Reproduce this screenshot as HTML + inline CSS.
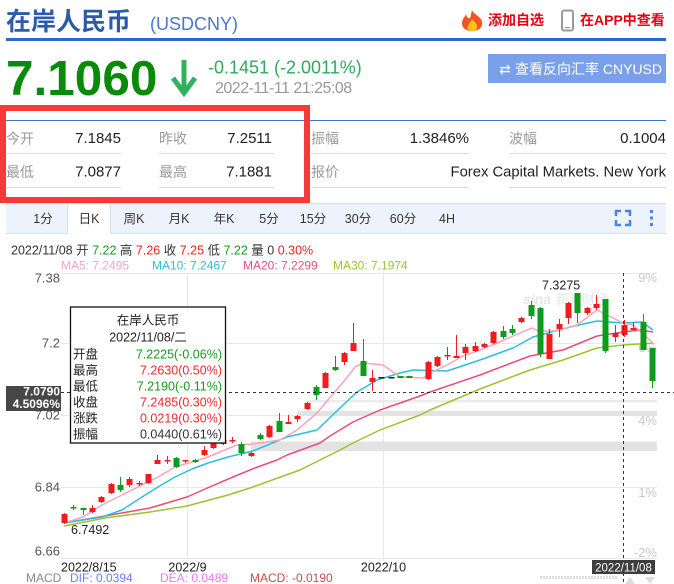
<!DOCTYPE html>
<html>
<head>
<meta charset="utf-8">
<style>
html,body{margin:0;padding:0;background:#fff;}
body{width:674px;height:584px;overflow:hidden;}
svg{display:block;font-family:"Liberation Sans","Noto Sans CJK SC",sans-serif;}
</style>
</head>
<body>
<svg width="674" height="584" viewBox="0 0 674 584" xmlns="http://www.w3.org/2000/svg">
<!-- Header -->
<text x="6" y="30" font-size="25" font-weight="bold" fill="#2d5ba8">在岸人民币</text>
<text x="150" y="30" font-size="18" fill="#4a77c9">(USDCNY)</text>
<path d="M472 10 C474 15 481 16 482 22 C483 28 478 31 472 31 C466 31 462 28 462 23 C462 19 465 17 466 14 C467 18 469 19 470 18 C471 16 471 13 472 10Z" fill="#f5541f"/>
<path d="M472 19 C474 22 478 24 477 27 C477 30 475 31 472 31 C469 31 467 29 467.5 27 C468 25 470 23 472 19Z" fill="#ffc21a"/>
<text x="488" y="25" font-size="14" font-weight="bold" fill="#e60012">添加自选</text>
<rect x="562" y="10.5" width="11" height="20" rx="2" fill="none" stroke="#9a9a9a" stroke-width="2"/>
<rect x="565" y="27" width="5" height="1.2" fill="#9a9a9a"/>
<text x="580" y="25" font-size="14" font-weight="bold" fill="#e60012">在APP中查看</text>
<rect x="6" y="38" width="660" height="3" fill="#3366cc"/>

<text x="6" y="95" font-size="49.5" font-weight="bold" fill="#0a8a0a">7.1060</text>
<line x1="184" y1="60" x2="184" y2="92" stroke="#2fb15e" stroke-width="5"/>
<polyline points="173,78 184,93 195,78" fill="none" stroke="#2fb15e" stroke-width="5"/>
<text x="208" y="73.5" font-size="18" fill="#2eaa5e">-0.1451 (-2.0011%)</text>
<text x="215" y="93" font-size="16" letter-spacing="-0.5" fill="#999">2022-11-11 21:25:08</text>

<rect x="488" y="54" width="178" height="29" fill="#7ba0ea"/>
<text x="499" y="74" font-size="14" fill="#fff" font-family="DejaVu Sans, sans-serif">⇄</text>
<text x="515" y="74" font-size="14" fill="#fff">查看反向汇率 CNYUSD</text>

<!-- Info table -->
<line x1="6" y1="120.5" x2="666" y2="120.5" stroke="#3d72c8" stroke-width="1"/>
<g font-size="14" fill="#9a9a9a">
<text x="6" y="143.5">今开</text>
<text x="159" y="143.5">昨收</text>
<text x="311" y="143.5">振幅</text>
<text x="509" y="143.5">波幅</text>
<text x="6" y="177">最低</text>
<text x="159" y="177">最高</text>
<text x="311" y="177">报价</text>
</g>
<g font-size="15" fill="#222" text-anchor="end">
<text x="121" y="143">7.1845</text>
<text x="272" y="143">7.2511</text>
<text x="469" y="143">1.3846%</text>
<text x="666" y="143">0.1004</text>
<text x="121" y="176.5">7.0877</text>
<text x="272" y="176.5">7.1881</text>
<text x="666" y="176.5" font-size="14.8">Forex Capital Markets. New York</text>
</g>
<g stroke="#dddddd" stroke-width="1">
<line x1="6" y1="153.5" x2="121" y2="153.5"/>
<line x1="159" y1="153.5" x2="274" y2="153.5"/>
<line x1="311" y1="153.5" x2="469" y2="153.5"/>
<line x1="509" y1="153.5" x2="666" y2="153.5"/>
<line x1="6" y1="187.5" x2="121" y2="187.5"/>
<line x1="159" y1="187.5" x2="274" y2="187.5"/>
<line x1="311" y1="187.5" x2="469" y2="187.5"/>
<line x1="509" y1="187.5" x2="666" y2="187.5"/>
</g>
<rect x="3" y="108" width="304" height="92" fill="none" stroke="#f93838" stroke-width="6"/>

<!-- Tabs -->
<rect x="6" y="203" width="660" height="31" fill="#edf3fc"/>
<line x1="6" y1="203.5" x2="666" y2="203.5" stroke="#d5dfee"/>
<line x1="6" y1="233.5" x2="666" y2="233.5" stroke="#d5dfee"/>
<rect x="67" y="204" width="44" height="31" fill="#fff"/>
<line x1="67.5" y1="204" x2="67.5" y2="234" stroke="#d5dfee"/>
<line x1="110.5" y1="204" x2="110.5" y2="234" stroke="#d5dfee"/>
<g font-size="12.5" fill="#333" text-anchor="middle">
<text x="43" y="223">1分</text>
<text x="89" y="223">日K</text>
<text x="134" y="223">周K</text>
<text x="179" y="223">月K</text>
<text x="224" y="223">年K</text>
<text x="269" y="223">5分</text>
<text x="313" y="223">15分</text>
<text x="358" y="223">30分</text>
<text x="403" y="223">60分</text>
<text x="447" y="223">4H</text>
</g>
<g fill="none" stroke="#4a86d8" stroke-width="2.5">
<polyline points="616,216 616,211 621,211"/>
<polyline points="625,211 630,211 630,216"/>
<polyline points="616,220 616,225 621,225"/>
<polyline points="625,225 630,225 630,220"/>
</g>
<g fill="#4a86d8">
<rect x="650" y="210" width="3" height="3"/>
<rect x="650" y="216.5" width="3" height="3"/>
<rect x="650" y="223" width="3" height="3"/>
</g>

<!-- Info line -->
<text x="11" y="254.5" font-size="12.5" fill="#333">2022/11/08 开 <tspan fill="#1a9a1a">7.22</tspan> 高 <tspan fill="#f02020">7.26</tspan> 收 <tspan fill="#f02020">7.25</tspan> 低 <tspan fill="#1a9a1a">7.22</tspan> 量 0 <tspan fill="#f02020">0.30%</tspan></text>
<g font-size="12">
<text x="61" y="269.5" fill="#f6a5bf">MA5: 7.2495</text>
<text x="152" y="269.5" fill="#2bbfdc">MA10: 7.2467</text>
<text x="243" y="269.5" fill="#ec4b7c">MA20: 7.2299</text>
<text x="333" y="269.5" fill="#9cc42e">MA30: 7.1974</text>
</g>

<!-- Grid -->
<g stroke="#e8e8e8" stroke-width="1">
<line x1="61" y1="273.5" x2="657" y2="273.5"/>
<line x1="61" y1="343.5" x2="657" y2="343.5"/>
<line x1="61" y1="415.5" x2="657" y2="415.5"/>
<line x1="61" y1="487.5" x2="657" y2="487.5"/>
<line x1="61" y1="558.5" x2="657" y2="558.5"/>
<line x1="187.5" y1="273" x2="187.5" y2="558"/>
<line x1="383.5" y1="273" x2="383.5" y2="558"/>
</g>
<g fill="#e3e3e3">
<rect x="307" y="400" width="350" height="2.5" fill="#ececec"/>
<rect x="298" y="411" width="359" height="5"/>
<rect x="251" y="441.5" width="406" height="9.5"/>
</g>
<g font-size="13" fill="#555" text-anchor="end">
<text x="60" y="282.5">7.38</text>
<text x="60" y="347.5">7.2</text>
<text x="60" y="419.5">7.02</text>
<text x="60" y="491.5">6.84</text>
<text x="60" y="555.5">6.66</text>
</g>
<g font-size="13" fill="#c8c8c8" text-anchor="end">
<text x="657" y="282">9%</text>
<text x="657" y="352">6%</text>
<text x="657" y="425">4%</text>
<text x="657" y="497">1%</text>
<text x="657" y="557">-2%</text>
</g>
<text x="523" y="304" font-size="14" font-weight="bold" font-style="italic" fill="#e6e6e6">sina</text>
<text x="556" y="304" font-size="13" fill="#e6e6e6">新浪财经</text>

<!-- MA lines -->
<g fill="none" stroke-width="1.5" stroke-linejoin="round">
<polyline stroke="#9cc42e" points="64,526 105,518 150,512 187,506 228,495 250,488 300,470 320,460 340,450 353,443 380,430 420,415 430,410 480,389 530,370 563,360 597,348 623,345 653,343"/>
<polyline stroke="#ec4b7c" points="64,523 105,516 150,508 187,497 205,489 233,477 255,468 277,460 287,455 320,443 330,436 353,422 380,410 420,396 430,392 480,375 530,356 563,350 597,336 623,332 640,330 653,332"/>
<polyline stroke="#2bbfdc" points="64,523 102,517 122,510 142,497 158,487 175,477 192,469 208,463 228,457 253,451 287,437 317,430 340,408 357,392 377,380 400,373 413,370 447,371 480,360 513,348 533,337 570,327 597,321 623,323 642,322 653,330"/>
<polyline stroke="#f6a5bf" points="64,523 83,517 102,505 122,495 138,487 158,477 175,467 192,462 208,457 222,451 237,445 253,444 280,440 297,430 317,413 333,394 345,380 355,367 363,363 383,365 400,377 423,378 430,373 447,365 463,356 480,350 497,343 513,336 532,328 538,331 557,331 577,325 597,310 607,315 623,323 633,325 642,333 652,342"/>
</g>

<!-- Candles red -->
<g fill="#f31b1b">
<rect x="64" y="513" width="1" height="11"/><rect x="61.5" y="514" width="6" height="9"/>
<rect x="92" y="505" width="1" height="8"/><rect x="89.5" y="508" width="6" height="4"/>
<rect x="101" y="496" width="1" height="7"/><rect x="98.5" y="497" width="6" height="5"/>
<rect x="111" y="483" width="1" height="11"/><rect x="108.5" y="484" width="6" height="9"/>
<rect x="129" y="477" width="1" height="10"/><rect x="126.5" y="479" width="6" height="6"/>
<rect x="139" y="481" width="1" height="5"/><rect x="136.5" y="483" width="6" height="1.5"/>
<rect x="148" y="474" width="1" height="10"/><rect x="145.5" y="474" width="6" height="9"/>
<rect x="157" y="455" width="1" height="9"/><rect x="154.5" y="460" width="6" height="4"/>
<rect x="167" y="456" width="1" height="8"/><rect x="164.5" y="460" width="6" height="1.5"/>
<rect x="185" y="460" width="1" height="3"/><rect x="182.5" y="460" width="6" height="1.5"/>
<rect x="204" y="446" width="1" height="10"/><rect x="201.5" y="450" width="6" height="5"/>
<rect x="213" y="438" width="1" height="11"/><rect x="210.5" y="442" width="6" height="6"/>
<rect x="223" y="437" width="1" height="8"/><rect x="220.5" y="440" width="6" height="4"/>
<rect x="232" y="437" width="1" height="6"/><rect x="229.5" y="440" width="6" height="1.5"/>
<rect x="251" y="452" width="1" height="5"/><rect x="248.5" y="453" width="6" height="3"/>
<rect x="269" y="425" width="1" height="13"/><rect x="266.5" y="426" width="6" height="11"/>
<rect x="288" y="415" width="1" height="9"/><rect x="285.5" y="422" width="6" height="2"/>
<rect x="297" y="415" width="1" height="7"/><rect x="294.5" y="416" width="6" height="3"/>
<rect x="307" y="402" width="1" height="8"/><rect x="304.5" y="403" width="6" height="6"/>
<rect x="325" y="372" width="1" height="16"/><rect x="322.5" y="373" width="6" height="15"/>
<rect x="344" y="352" width="1" height="13"/><rect x="341.5" y="353" width="6" height="9"/>
<rect x="353" y="323" width="1" height="28"/><rect x="350.5" y="343" width="6" height="8"/>
<rect x="372" y="370" width="1" height="21"/><rect x="369.5" y="378" width="6" height="4"/>
<rect x="428" y="361" width="1" height="19"/><rect x="425.5" y="362" width="6" height="17"/>
<rect x="437" y="356" width="1" height="11"/><rect x="434.5" y="357" width="6" height="9"/>
<rect x="447" y="347" width="1" height="13"/><rect x="444.5" y="355" width="6" height="1.5"/>
<rect x="456" y="335" width="1" height="23"/><rect x="453.5" y="356" width="6" height="2"/>
<rect x="465" y="344" width="1" height="16"/><rect x="462.5" y="347" width="6" height="6"/>
<rect x="475" y="342" width="1" height="10"/><rect x="472.5" y="346" width="6" height="5"/>
<rect x="484" y="343" width="1" height="5"/><rect x="481.5" y="344" width="6" height="3"/>
<rect x="493" y="331" width="1" height="13"/><rect x="490.5" y="332" width="6" height="11"/>
<rect x="521" y="317" width="1" height="6"/><rect x="518.5" y="318" width="6" height="4"/>
<rect x="549" y="329" width="1" height="30"/><rect x="546.5" y="334" width="6" height="25"/>
<rect x="559" y="319" width="1" height="18"/><rect x="556.5" y="324" width="6" height="5"/>
<rect x="568" y="302" width="1" height="22"/><rect x="565.5" y="303" width="6" height="15"/>
<rect x="587" y="307" width="1" height="8"/><rect x="584.5" y="308" width="6" height="5"/>
<rect x="596" y="295" width="1" height="15"/><rect x="593.5" y="304" width="6" height="4"/>
<rect x="615" y="325" width="1" height="17"/><rect x="612.5" y="333" width="6" height="4"/>
<rect x="624" y="320" width="1" height="17"/><rect x="621.5" y="325" width="6" height="10"/>
<rect x="633" y="322" width="1" height="8"/><rect x="630.5" y="328" width="6" height="2"/>
</g>
<!-- Candles green -->
<g fill="#0e9c1e">
<rect x="73" y="505" width="1" height="5"/><rect x="70.5" y="507" width="6" height="1.5"/>
<rect x="83" y="508" width="1" height="7"/><rect x="80.5" y="508" width="6" height="2"/>
<rect x="120" y="477" width="1" height="15"/><rect x="117.5" y="485" width="6" height="5"/>
<rect x="176" y="457" width="1" height="11"/><rect x="173.5" y="458" width="6" height="9"/>
<rect x="195" y="459" width="1" height="4"/><rect x="192.5" y="460" width="6" height="2"/>
<rect x="241" y="442" width="1" height="14"/><rect x="238.5" y="444" width="6" height="9"/>
<rect x="260" y="433" width="1" height="7"/><rect x="257.5" y="435" width="6" height="4"/>
<rect x="279" y="413" width="1" height="19"/><rect x="276.5" y="421" width="6" height="11"/>
<rect x="316" y="385" width="1" height="15"/><rect x="313.5" y="387" width="6" height="8"/>
<rect x="335" y="356" width="1" height="15"/><rect x="332.5" y="367" width="6" height="3"/>
<rect x="363" y="339" width="1" height="37"/><rect x="360.5" y="361" width="6" height="15"/>
<rect x="397.5" y="376" width="6" height="2"/>
<rect x="406.5" y="376" width="6" height="2"/>
<rect x="503" y="326" width="1" height="13"/><rect x="500.5" y="331" width="6" height="6"/>
<rect x="512" y="325" width="1" height="10"/><rect x="509.5" y="329" width="6" height="4"/>
<rect x="531" y="301" width="1" height="18"/><rect x="528.5" y="305" width="6" height="11"/>
<rect x="540" y="307" width="1" height="50"/><rect x="537.5" y="308" width="6" height="46"/>
<rect x="577" y="293" width="1" height="30"/><rect x="574.5" y="293" width="6" height="20"/>
<rect x="605" y="299" width="1" height="54"/><rect x="602.5" y="299" width="6" height="52"/>
<rect x="643" y="314" width="1" height="36"/><rect x="640.5" y="322" width="6" height="28"/>
<rect x="652" y="348" width="1" height="40"/><rect x="649.5" y="348" width="6" height="33"/>
</g>
<g fill="#222">
<rect x="378.5" y="377" width="6" height="1.5"/>
<rect x="388.5" y="377" width="6" height="1.5"/>
</g>

<text x="542" y="289.5" font-size="12.5" fill="#222">7.3275</text>
<text x="71" y="534" font-size="12.5" fill="#222">6.7492</text>

<!-- Crosshair -->
<line x1="623.5" y1="273" x2="623.5" y2="584" stroke="#333" stroke-width="1" stroke-dasharray="3,3"/>
<line x1="61" y1="392.5" x2="674" y2="392.5" stroke="#333" stroke-width="1" stroke-dasharray="3,3"/>
<rect x="6" y="386" width="55" height="25" fill="#474747"/>
<text x="60" y="395.5" font-size="12" font-weight="bold" fill="#fff" text-anchor="end">7.0790</text>
<text x="60" y="408" font-size="12" font-weight="bold" fill="#fff" text-anchor="end">4.5096%</text>

<!-- Tooltip -->
<rect x="70.5" y="307" width="155" height="136" fill="#fff" stroke="#111" stroke-width="1.3"/>
<g font-size="12.5">
<text x="148" y="324.5" text-anchor="middle" fill="#222">在岸人民币</text>
<text x="148" y="341.5" text-anchor="middle" fill="#222">2022/11/08/二</text>
<text x="73" y="358.5" fill="#222">开盘</text>
<text x="73" y="374.5" fill="#222">最高</text>
<text x="73" y="390.5" fill="#222">最低</text>
<text x="73" y="406.5" fill="#222">收盘</text>
<text x="73" y="422.5" fill="#222">涨跌</text>
<text x="73" y="438.5" fill="#222">振幅</text>
<g text-anchor="end">
<text x="222" y="358.3" fill="#1a9a1a">7.2225(-0.06%)</text>
<text x="222" y="374.3" fill="#f02a2a">7.2630(0.50%)</text>
<text x="222" y="390.3" fill="#1a9a1a">7.2190(-0.11%)</text>
<text x="222" y="406.3" fill="#f02a2a">7.2485(0.30%)</text>
<text x="222" y="422.3" fill="#f02a2a">0.0219(0.30%)</text>
<text x="222" y="438.3" fill="#333">0.0440(0.61%)</text>
</g>
</g>

<!-- Date axis -->
<g font-size="12.5" fill="#222">
<text x="61" y="571.5">2022/8/15</text>
<text x="187.5" y="571.5" text-anchor="middle">2022/9</text>
<text x="383.5" y="571.5" text-anchor="middle">2022/10</text>
</g>
<rect x="592" y="560" width="63" height="14" fill="#3d3d3d"/>
<text x="623.5" y="571.5" font-size="11.5" fill="#fff" text-anchor="middle">2022/11/08</text>
<line x1="540" y1="577.5" x2="617" y2="577.5" stroke="#ddd" stroke-width="3" stroke-dasharray="2,1"/>
<polygon points="625,584 630,577 635,584" fill="#ddd"/>
<polygon points="645,577 655,577 650,584" fill="#ddd"/>

<!-- MACD line -->
<g font-size="12">
<text x="26" y="582" fill="#888">MACD</text>
<text x="70" y="582" fill="#6b7cff">DIF: 0.0394</text>
<text x="160" y="582" fill="#ee77ee">DEA: 0.0489</text>
<text x="250" y="582" fill="#c0504d">MACD: -0.0190</text>
</g>
</svg>
</body>
</html>
